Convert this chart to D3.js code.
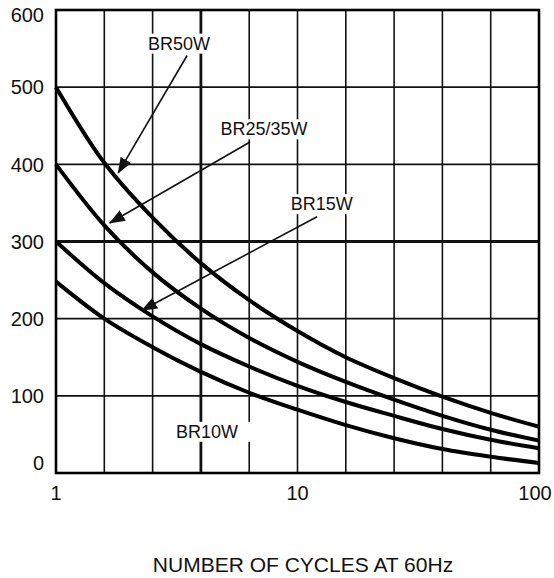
<!DOCTYPE html>
<html>
<head>
<meta charset="utf-8">
<script src="https://cdn.jsdelivr.net/npm/d3@7/dist/d3.min.js"></script>
<style>
  body { margin: 0; background: #fff; }
  text { font-family: 'Liberation Sans', Arial, sans-serif; fill: #111; }
</style>
</head>
<body>
<div id="chart"></div>
<script>
'use strict';

// x values are the vertical grid positions (five per decade)
const cycles = [1, 1.585, 2.512, 3.981, 6.31, 10, 15.85, 25.12, 39.81, 63.1, 100];
const br50 = [500, 402, 331, 272, 224, 184, 150, 123, 99, 78, 60];
const br2535 = [400, 321, 260, 213, 175, 144, 118, 95, 74, 56, 42];
const br15 = [300, 246, 203, 167, 138, 113, 92, 74, 57, 43, 32];
const br10 = [248, 200, 163, 131, 104, 82, 62, 45, 31, 21, 13];

const xTicks = [1, 10, 100];
const yTicks = [0, 100, 200, 300, 400, 500, 600];
const heavyX = [3.981];
const heavyY = [300];

// label position, arrow tail and tip in data units
const notes = [
  { text: 'BR50W', at: [3.23, 557], from: [3.49, 541], to: [1.81, 389], pad: 4 },
  { text: 'BR25/35W', at: [7.27, 446], from: [6.36, 429], to: [1.67, 324], pad: 4 },
  { text: 'BR15W', at: [12.6, 349], from: [12.05, 332], to: [2.27, 211], pad: 4 },
  { text: 'BR10W', at: [4.22, 54], from: null, to: null, pad: 13 },
];

const width = 554;
const height = 578;

const x = d3.scaleLog().domain([1, 100]).range([56, 539]);
const y = d3.scaleLinear().domain([0, 600]).range([473, 10]);

const svg = d3
  .select('#chart')
  .append('svg')
  .attr('width', width)
  .attr('height', height);

svg
  .append('defs')
  .append('marker')
  .attr('id', 'head')
  .attr('markerUnits', 'userSpaceOnUse')
  .attr('markerWidth', 16)
  .attr('markerHeight', 12)
  .attr('refX', 15)
  .attr('refY', 6)
  .attr('orient', 'auto')
  .append('path')
  .attr('d', 'M0,0L16,6L0,12Z')
  .attr('fill', '#111');

// grid
const grid = svg.append('g').attr('stroke', '#111');

grid
  .selectAll('.vx')
  .data(cycles)
  .enter()
  .append('line')
  .attr('x1', (d) => x(d))
  .attr('x2', (d) => x(d))
  .attr('y1', y(0))
  .attr('y2', y(600))
  .attr('stroke-width', (d) => (heavyX.includes(d) ? 2.8 : 1.6));

grid
  .selectAll('.hy')
  .data(yTicks)
  .enter()
  .append('line')
  .attr('x1', x(1))
  .attr('x2', x(100))
  .attr('y1', (d) => y(d))
  .attr('y2', (d) => y(d))
  .attr('stroke-width', (d) => (heavyY.includes(d) ? 2.8 : 1.6));

// curves
const series = [br50, br2535, br15, br10];
const line = d3
  .line()
  .x((d, i) => x(cycles[i]))
  .y((d) => y(d))
  .curve(d3.curveCatmullRom.alpha(0.5));

svg
  .append('g')
  .selectAll('path')
  .data(series)
  .enter()
  .append('path')
  .attr('d', line)
  .attr('fill', 'none')
  .attr('stroke', '#000')
  .attr('stroke-width', 4);

// labels with white boxes that break the grid
const note = svg
  .append('g')
  .selectAll('g')
  .data(notes)
  .enter()
  .append('g');

const rects = note.append('rect').attr('fill', '#fff');

note
  .append('text')
  .attr('x', (d) => x(d.at[0]))
  .attr('y', (d) => y(d.at[1]))
  .attr('dy', '0.36em')
  .attr('text-anchor', 'middle')
  .attr('font-size', 18)
  .text((d) => d.text);

rects.each(function(d) {
  const b = this.parentNode.querySelector('text').getBBox();
  d3.select(this)
    .attr('x', b.x - d.pad)
    .attr('y', b.y)
    .attr('width', b.width + 2 * d.pad)
    .attr('height', b.height);
});

svg
  .append('g')
  .selectAll('line')
  .data(notes.filter((d) => d.from))
  .enter()
  .append('line')
  .attr('x1', (d) => x(d.from[0]))
  .attr('y1', (d) => y(d.from[1]))
  .attr('x2', (d) => x(d.to[0]))
  .attr('y2', (d) => y(d.to[1]))
  .attr('stroke', '#111')
  .attr('stroke-width', 1.6)
  .attr('marker-end', 'url(#head)');

// frame
svg
  .append('rect')
  .attr('x', x(1))
  .attr('y', y(600))
  .attr('width', x(100) - x(1))
  .attr('height', y(0) - y(600))
  .attr('fill', 'none')
  .attr('stroke', '#000')
  .attr('stroke-width', 2.6);

// tick labels
svg
  .append('g')
  .selectAll('text')
  .data(yTicks)
  .enter()
  .append('text')
  .attr('x', 44)
  .attr('y', (d) => Math.max(15, Math.min(463, y(d))))
  .attr('dy', '0.36em')
  .attr('text-anchor', 'end')
  .attr('font-size', 20)
  .text((d) => d);

svg
  .append('g')
  .selectAll('text')
  .data(xTicks)
  .enter()
  .append('text')
  .attr('x', (d) => Math.min(535, x(d)))
  .attr('y', 500)
  .attr('text-anchor', 'middle')
  .attr('font-size', 20)
  .text((d) => d);

svg
  .append('text')
  .attr('x', 303)
  .attr('y', 572)
  .attr('text-anchor', 'middle')
  .attr('font-size', 21)
  .text('NUMBER OF CYCLES AT 60Hz');
</script>
</body>
</html>
